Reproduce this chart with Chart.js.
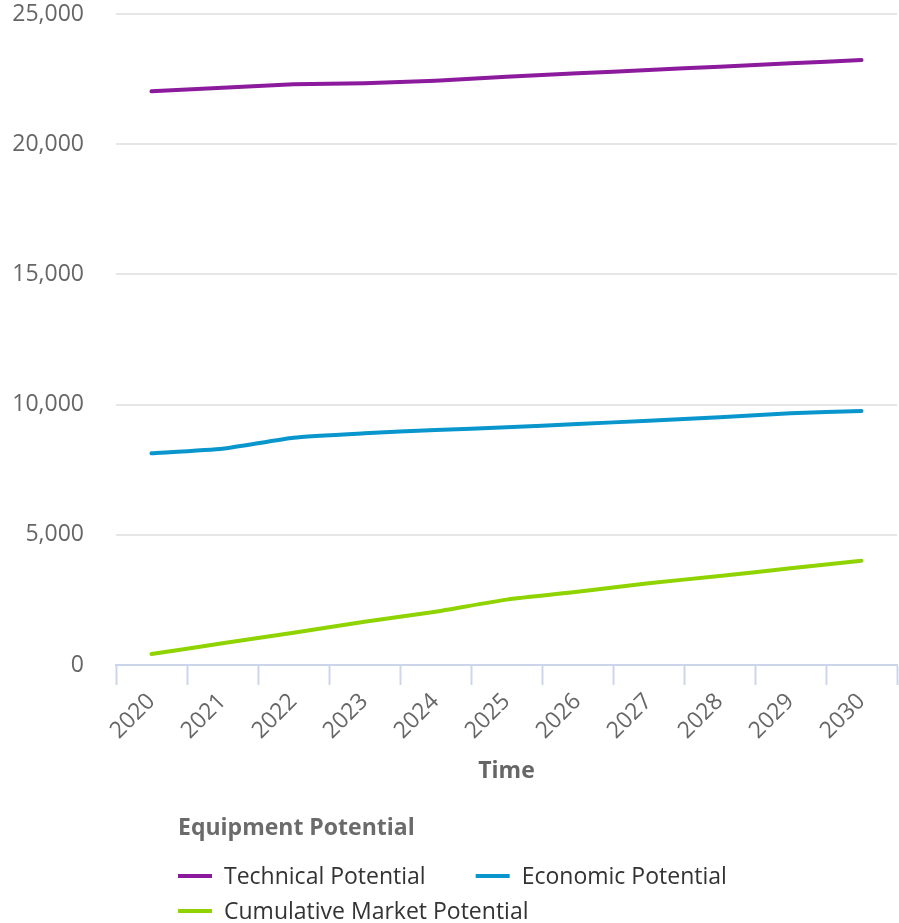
<!DOCTYPE html>
<html>
<head>
<meta charset="utf-8">
<title>Equipment Potential</title>
<script src="https://cdn.jsdelivr.net/npm/chart.js@4.4.1/dist/chart.umd.min.js"></script>
<style>
  html, body { margin: 0; padding: 0; background: #ffffff; }
  #wrap { width: 899px; height: 923px; }
</style>
</head>
<body>
<div id="wrap"><canvas id="chart" width="899" height="923"></canvas></div>
<script>
// Years on the horizontal axis
const years = ['2020', '2021', '2022', '2023', '2024', '2025', '2026', '2027', '2028', '2029', '2030'];

// Series values per year
const technicalPotential = [22030, 22170, 22300, 22340, 22440, 22590, 22720, 22850, 22975, 23105, 23230];
const economicPotential = [8130, 8306, 8730, 8897, 9024, 9128, 9254, 9381, 9511, 9665, 9754];
const cumulativeMarketPotential = [422, 833, 1240, 1663, 2047, 2510, 2815, 3137, 3418, 3713, 4005];

// Value axis ticks
const yTicks = [0, 5000, 10000, 15000, 20000, 25000];

const seriesNames = ['Technical Potential', 'Economic Potential', 'Cumulative Market Potential'];
const legendTitle = 'Equipment Potential';
const xTitle = 'Time';

const FONT = "'Open Sans', 'DejaVu Sans', sans-serif";

// Legend drawn below the axis title, rows wrap and stay left aligned
const blockLegend = {
  id: 'blockLegend',
  afterDraw(chart) {
    const ctx = chart.ctx;
    const startX = 178;
    const maxRowWidth = 570;
    ctx.save();
    ctx.textBaseline = 'middle';
    ctx.textAlign = 'left';
    ctx.font = "bold 23px " + FONT;
    ctx.fillStyle = '#6b6b6b';
    ctx.fillText(legendTitle, startX, 828);

    ctx.font = "23px " + FONT;
    let x = startX, y = 876;
    chart.data.datasets.forEach((ds) => {
      const w = 34 + 12 + ctx.measureText(ds.label).width;
      if (x > startX && x - startX + w > maxRowWidth) {
        x = startX;
        y += 35;
      }
      ctx.strokeStyle = ds.borderColor;
      ctx.lineWidth = 4;
      ctx.lineCap = 'butt';
      ctx.beginPath();
      ctx.moveTo(x, y);
      ctx.lineTo(x + 34, y);
      ctx.stroke();
      ctx.fillStyle = '#333333';
      ctx.fillText(ds.label, x + 46, y + 1);
      x += w + 50;
    });
    ctx.restore();
  }
};

new Chart(document.getElementById('chart'), {
  type: 'line',
  data: {
    labels: years,
    datasets: [
      { label: seriesNames[0], data: technicalPotential, borderColor: '#8c1a9c' },
      { label: seriesNames[1], data: economicPotential, borderColor: '#0896cc' },
      { label: seriesNames[2], data: cumulativeMarketPotential, borderColor: '#8fd400' }
    ].map(d => Object.assign(d, {
      borderWidth: 4,
      pointRadius: 0,
      pointHoverRadius: 0,
      tension: 0.15,
      fill: false,
      borderCapStyle: 'round'
    }))
  },
  options: {
    responsive: false,
    devicePixelRatio: 1,
    animation: false,
    locale: 'en-US',
    layout: { padding: { top: 14, right: 2, bottom: 138, left: 0 } },
    plugins: {
      legend: { display: false },
      tooltip: { enabled: false }
    },
    scales: {
      x: {
        offset: true,
        grid: {
          offset: true,
          drawOnChartArea: false,
          drawTicks: true,
          tickLength: 20,
          tickWidth: 2,
          tickColor: '#ccd6eb'
        },
        border: { display: true, color: '#ccd6eb', width: 2 },
        ticks: {
          color: '#666666',
          font: { family: FONT, size: 23 },
          minRotation: 45,
          maxRotation: 45,
          padding: 3,
          autoSkip: false
        },
        title: {
          display: true,
          text: xTitle,
          color: '#666666',
          font: { family: FONT, size: 23, weight: 'bold' },
          padding: { top: 4, bottom: 0 }
        },
        afterFit(scale) { scale.height = 120; }
      },
      y: {
        min: 0,
        max: 25000,
        afterBuildTicks(scale) { scale.ticks = yTicks.map(v => ({ value: v })); },
        grid: {
          color: '#e6e6e6',
          lineWidth: 2,
          drawTicks: false
        },
        border: { display: false },
        ticks: {
          color: '#666666',
          font: { family: FONT, size: 23 },
          padding: 32,
          callback: (v) => Number(v).toLocaleString('en-US')
        },
        afterFit(scale) {
          scale.width = 116;
          scale.paddingTop = 10;
          scale.paddingBottom = 10;
        }
      }
    }
  },
  plugins: [blockLegend]
});
</script>
</body>
</html>
